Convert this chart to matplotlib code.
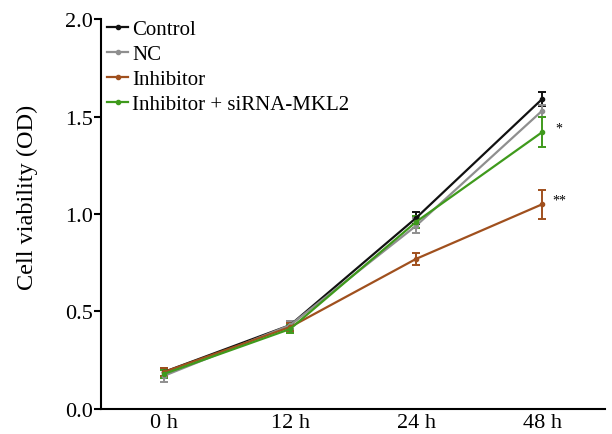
import numpy as np
import matplotlib.pyplot as plt
from matplotlib.lines import Line2D

plt.rcParams['font.family'] = ['Liberation Serif', 'DejaVu Serif']

# ─── Data ─────────────────────────────────────────────────────────────────────
times = ['0 h', '12 h', '24 h', '48 h']
control = [0.19, 0.43, 0.98, 1.59]
control_err = [0.02, 0.02, 0.03, 0.035]
nc = [0.17, 0.43, 0.94, 1.53]
nc_err = [0.03, 0.02, 0.04, 0.03]
inhibitor = [0.19, 0.42, 0.77, 1.05]
inhibitor_err = [0.02, 0.02, 0.03, 0.075]
rescue = [0.18, 0.41, 0.96, 1.42]
rescue_err = [0.02, 0.02, 0.03, 0.075]
marks = ['', '', '', '*']
marks_inh = ['', '', '', '**']

series = [
    ('Control', control, control_err, '#111111'),
    ('NC', nc, nc_err, '#8f8f8f'),
    ('Inhibitor', inhibitor, inhibitor_err, '#a0501e'),
    ('Inhibitor + siRNA-MKL2', rescue, rescue_err, '#3f9a1c'),
]

# ─── Figure ───────────────────────────────────────────────────────────────────
fig = plt.figure(figsize=(6.12, 4.35), dpi=100)
ax = fig.add_axes([0.165, 0.0575, 0.824, 0.8965])
x = np.arange(len(times))

handles = []
for name, vals, err, col in series:
    ax.errorbar(x, vals, yerr=err, color=col, linewidth=1.6, marker='o',
                markersize=3, capsize=3, elinewidth=1.4, capthick=1.4)
    handles.append(Line2D([], [], color=col, linewidth=1.6, marker='o',
                          markersize=3, label=name))

# significance marks
for xi, yi, m in zip(x, rescue, marks):
    if m:
        ax.text(xi + 0.1, yi + 0.02, m, fontsize=10, va='center')
for xi, yi, m in zip(x, inhibitor, marks_inh):
    if m:
        ax.text(xi + 0.08, yi + 0.02, m, fontsize=10, va='center')

ax.set_xlim(-0.5, 3.5)
ax.set_ylim(0, 2.0)
ax.set_xticks(x)
ax.set_xticklabels(times, fontsize=16)
ax.set_yticks([0.0, 0.5, 1.0, 1.5, 2.0])
ax.set_yticklabels(['0.0', '0.5', '1.0', '1.5', '2.0'], fontsize=16)
ax.tick_params(axis='x', length=0, pad=3)
ax.tick_params(axis='y', length=5, width=1.5, pad=1)
for s in ['top', 'right']:
    ax.spines[s].set_visible(False)
for s in ['left', 'bottom']:
    ax.spines[s].set_linewidth(1.5)

# y-axis title sits a little above the axis middle
fig.text(27 / 612, 1 - 197 / 435, 'Cell viability (OD)', fontsize=17.5,
         rotation=90, ha='center', va='center')

ax.legend(handles=handles, loc='upper left', bbox_to_anchor=(-0.012, 1.03),
          frameon=False, fontsize=15, handlelength=1.0, handletextpad=0.2,
          labelspacing=0.26, borderaxespad=0.2)

plt.savefig('out.png', dpi=100)
